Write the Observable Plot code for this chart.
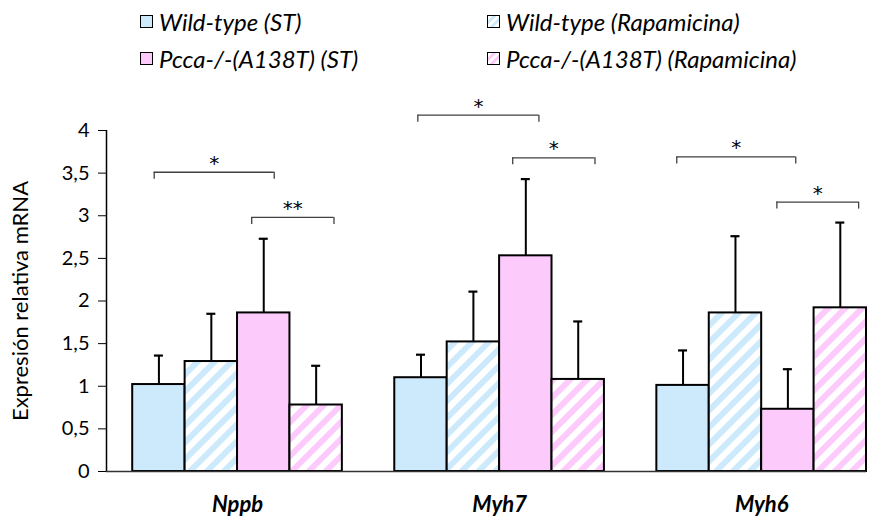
<!DOCTYPE html>
<html>
<head>
<meta charset="utf-8">
<script src="https://cdn.jsdelivr.net/npm/d3@7"></script>
<script src="https://cdn.jsdelivr.net/npm/@observablehq/plot@0.6"></script>
<style>
  html, body { margin: 0; padding: 0; background: #fff; }
  body { width: 877px; height: 519px; overflow: hidden; font-family: Lato, "Open Sans", sans-serif; }
  #legend { position: relative; height: 80px; }
  .item { position: absolute; display: flex; align-items: center; font-style: italic; font-size: 24px; color: #000; white-space: nowrap; }
  .swatch { width: 11px; height: 11px; border: 1.5px solid #000; margin-right: 6px; flex: none; }
  #chart svg { display: block; }
</style>
</head>
<body>
<div id="legend"></div>
<div id="chart"></div>
<script>
// Genes on the x axis
const genes = ["Nppb", "Myh7", "Myh6"];

// Series (legend order)
const seriesNames = ["Wild-type (ST)", "Wild-type (Rapamicina)", "Pcca-/-(A138T) (ST)", "Pcca-/-(A138T) (Rapamicina)"];
const seriesFill = ["#cdeafc", "url(#stripe-blue)", "#fccbfc", "url(#stripe-pink)"];
const seriesSwatch = [
  "#cdeafc",
  "repeating-linear-gradient(135deg, #fff 0 3px, #cdeafc 3px 6px)",
  "#fccbfc",
  "repeating-linear-gradient(135deg, #fff 0 3px, #fccbfc 3px 6px)"
];

// Mean relative expression per series, one value per gene
const wtST    = [1.02, 1.10, 1.01];
const wtRapa  = [1.29, 1.52, 1.86];
const pccaST  = [1.86, 2.53, 0.73];
const pccaRapa = [0.78, 1.08, 1.92];

// Error (upper bar length) per series
const wtSTErr    = [0.34, 0.27, 0.41];
const wtRapaErr  = [0.56, 0.59, 0.90];
const pccaSTErr  = [0.87, 0.90, 0.47];
const pccaRapaErr = [0.46, 0.68, 1.00];

// Y axis ticks
const yTicks = [0, 0.5, 1, 1.5, 2, 2.5, 3, 3.5, 4];

// Significance brackets: gene index, span (in bar widths from the group start), height, label
const bracketGene  = [0, 0, 1, 1, 2, 2];
const bracketFrom  = [0.41, 2.27, 0.44, 2.25, 0.38, 2.29];
const bracketTo    = [2.70, 3.84, 2.75, 3.82, 2.65, 3.85];
const bracketY     = [3.51, 2.98, 4.18, 3.68, 3.69, 3.16];
const bracketLabel = ["*", "**", "*", "*", "*", "*"];

const means = [wtST, wtRapa, pccaST, pccaRapa];
const errs = [wtSTErr, wtRapaErr, pccaSTErr, pccaRapaErr];

// x is measured in bar widths: each gene group holds 4 bars plus a one-bar gap
const groupStart = g => g * 5 + 0.5;

const rows = [];
genes.forEach((gene, g) => {
  seriesNames.forEach((s, i) => {
    rows.push({gene, g, s: i, value: means[i][g], err: errs[i][g]});
  });
});

const brackets = bracketGene.map((g, k) => ({
  x1: groupStart(g) + bracketFrom[k],
  x2: groupStart(g) + bracketTo[k],
  y: bracketY[k],
  label: bracketLabel[k]
}));

// Legend
const legend = document.getElementById("legend");
const legendPos = [[140, 21], [487, 21], [140, 58], [487, 58]];
seriesNames.forEach((name, i) => {
  const item = document.createElement("div");
  item.className = "item";
  item.style.left = legendPos[i][0] + "px";
  item.style.top = (legendPos[i][1] - 15) + "px";
  item.style.height = "30px";
  const sw = document.createElement("span");
  sw.className = "swatch";
  sw.style.background = seriesSwatch[i];
  const label = document.createElement("span");
  label.textContent = name;
  item.append(sw, label);
  legend.append(item);
});

const barMarks = seriesNames.map((name, i) =>
  Plot.rectY(rows.filter(d => d.s === i), {
    x1: d => groupStart(d.g) + d.s,
    x2: d => groupStart(d.g) + d.s + 1,
    y1: 0,
    y2: "value",
    fill: seriesFill[i],
    stroke: "#000",
    strokeWidth: 2
  })
);

const barCenter = d => groupStart(d.g) + d.s + 0.5;

const chart = Plot.plot({
  width: 877,
  height: 439,
  marginTop: 50,
  marginBottom: 48,
  marginLeft: 106,
  marginRight: 11,
  style: {fontFamily: "Lato, 'Open Sans', sans-serif", color: "#000", background: "#fff", overflow: "visible"},
  x: {domain: [0, 14.5], axis: null},
  y: {domain: [0, 4], axis: null},
  marks: [
    // error bars (drawn first so the bar outline covers the stem base)
    Plot.ruleX(rows, {x: barCenter, y1: "value", y2: d => d.value + d.err, stroke: "#000", strokeWidth: 2}),
    Plot.ruleY(rows, {x1: barCenter, x2: barCenter, y: d => d.value + d.err, insetLeft: -4.5, insetRight: -4.5, stroke: "#000", strokeWidth: 2.2}),
    ...barMarks,
    // axes
    Plot.axisY({ticks: yTicks, tickSize: 8, tickPadding: 9, fontSize: 20, label: null,
      tickFormat: d => String(d).replace(".", ",")}),
    Plot.ruleX([0], {stroke: "#000", strokeWidth: 1.5}),
    Plot.ruleY([0], {stroke: "#333", strokeWidth: 1.5}),
    Plot.text(["Expresión relativa mRNA"], {frameAnchor: "left", textAnchor: "middle", dx: -86, rotate: -90, fontSize: 22}),
    Plot.text(genes, {x: (d, g) => groupStart(g) + 2, y: 0, dy: 33, text: d => d,
      fontSize: 22, fontWeight: "bold", fontStyle: "italic", lineAnchor: "middle"}),
    // significance brackets
    Plot.ruleY(brackets, {x1: "x1", x2: "x2", y: "y", stroke: "#404040", strokeWidth: 1.3}),
    Plot.ruleX(brackets, {x: "x1", y1: "y", y2: "y", insetBottom: -7, stroke: "#404040", strokeWidth: 1.3}),
    Plot.ruleX(brackets, {x: "x2", y1: "y", y2: "y", insetBottom: -7, stroke: "#404040", strokeWidth: 1.3}),
    Plot.text(brackets, {x: d => (d.x1 + d.x2) / 2, y: "y", text: "label", dy: -9, fontSize: 20,
      fontFamily: "'DejaVu Sans', sans-serif", lineAnchor: "middle"})
  ]
});

// Stripe patterns for the rapamycin bars
const ns = "http://www.w3.org/2000/svg";
const defs = document.createElementNS(ns, "defs");
[["stripe-blue", "#cdeafc"], ["stripe-pink", "#fccbfc"]].forEach(([id, color]) => {
  const p = document.createElementNS(ns, "pattern");
  p.setAttribute("id", id);
  p.setAttribute("patternUnits", "userSpaceOnUse");
  p.setAttribute("width", "12");
  p.setAttribute("height", "12");
  p.setAttribute("patternTransform", "rotate(45)");
  const bg = document.createElementNS(ns, "rect");
  bg.setAttribute("width", "12"); bg.setAttribute("height", "12"); bg.setAttribute("fill", "#fff");
  const st = document.createElementNS(ns, "rect");
  st.setAttribute("width", "6"); st.setAttribute("height", "12"); st.setAttribute("fill", color);
  p.append(bg, st);
  defs.append(p);
});
chart.insertBefore(defs, chart.firstChild);

document.getElementById("chart").append(chart);
</script>
</body>
</html>
